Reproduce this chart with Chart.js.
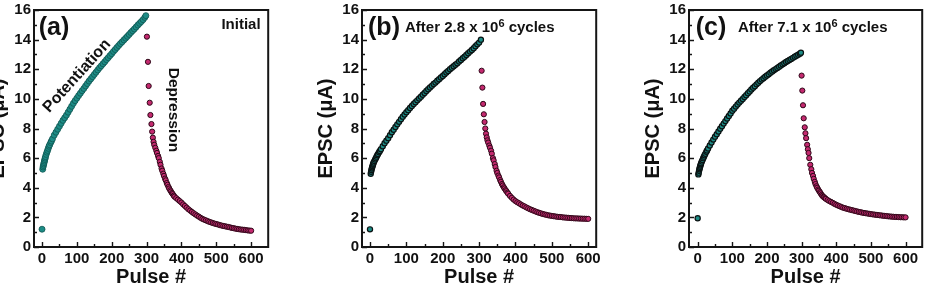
<!DOCTYPE html>
<html>
<head>
<meta charset="utf-8">
<script src="https://cdn.jsdelivr.net/npm/chart.js@4.4.1/dist/chart.umd.min.js"></script>
<style>
  body { margin: 0; background: #fff; width: 926px; height: 296px; overflow: hidden; position: relative; }
  canvas { position: absolute; top: 0; }
</style>
</head>
<body>
<canvas id="ca" width="310" height="296" style="left:-38px"></canvas>
<canvas id="cb" width="310" height="296" style="left:290px"></canvas>
<canvas id="cc" width="309" height="296" style="left:617px"></canvas>
<script>
// [pulse, EPSC uA]
const aPot = [[0,1.2],[2,5.25],[3,5.4],[4,5.5],[5,5.6],[6,5.7],[7,5.8],[8,5.9],[9,6.0],[10,6.1],[12,6.25],[14,6.4],[16,6.52],
  [18,6.66],[20,6.8],[22,6.9],[25,7.05],[27,7.15],[30,7.3],[35,7.55],[40,7.75],[45,7.95],[50,8.15],
  [55,8.35],[60,8.55],[65,8.72],[70,8.9],[75,9.1],[80,9.3],[85,9.5],[90,9.7],[95,9.88],[100,10.05],[105,10.22],[110,10.38],
  [115,10.55],[120,10.7],[125,10.87],[130,11.03],[135,11.2],[140,11.35],[145,11.5],[150,11.65],[155,11.8],[160,11.95],
  [165,12.1],[170,12.23],[175,12.37],[180,12.5],[185,12.65],[190,12.78],[195,12.92],[200,13.05],[205,13.2],[210,13.33],
  [215,13.47],[220,13.6],[225,13.73],[230,13.85],[235,13.98],[240,14.1],[245,14.22],[250,14.35],[255,14.48],[260,14.6],
  [265,14.72],[270,14.85],[275,14.98],[280,15.1],[285,15.22],[290,15.35],[295,15.5],[298,15.62]];
const aDep = [[301,14.2],[304,12.5],[306,10.87],[309,9.74],[311,8.91],[314,8.3],[316,7.79],[318,7.38],[320,7.1],[322,6.9],
  [325,6.7],[328,6.5],[330,6.35],[333,6.15],[335,6.0],[338,5.75],[340,5.55],[343,5.3],[345,5.15],[348,4.95],[350,4.8],
  [353,4.62],[355,4.5],[358,4.32],[360,4.2],[363,4.05],[365,3.95],[368,3.83],[370,3.75],[373,3.64],[375,3.57],[378,3.47],
  [380,3.4],[385,3.3],[390,3.2],[395,3.1],[400,3.0],[405,2.88],
  [410,2.77],[415,2.66],[420,2.55],[425,2.46],[430,2.37],[435,2.28],[440,2.2],[445,2.12],[450,2.05],[455,1.97],[460,1.9],
  [465,1.85],[470,1.8],[475,1.75],[480,1.7],[485,1.66],[490,1.62],[495,1.58],[500,1.55],[505,1.52],[510,1.48],[515,1.45],
  [520,1.42],[525,1.4],[530,1.37],[535,1.35],[540,1.32],[545,1.29],[550,1.27],[555,1.24],[560,1.22],[565,1.2],[570,1.18],
  [575,1.17],[580,1.16],[585,1.14],[590,1.12],[595,1.11],[600,1.1]];

const bPot = [[0,1.19],[2,4.95],[3,5.08],[4,5.2],[5,5.3],[6,5.38],[7,5.46],[8,5.55],[9,5.62],[10,5.7],[12,5.8],[14,5.9],
  [16,6.0],[18,6.1],[20,6.2],[22,6.28],[25,6.4],[27,6.48],[30,6.6],[35,6.8],[40,7.0],[45,7.18],[50,7.35],
  [55,7.55],[60,7.75],[65,7.92],[70,8.1],[75,8.28],[80,8.45],[85,8.62],[90,8.8],[95,8.95],[100,9.1],[105,9.24],[110,9.38],
  [115,9.52],[120,9.65],[125,9.78],[130,9.9],[135,10.03],[140,10.15],[145,10.28],[150,10.4],[155,10.53],[160,10.65],
  [165,10.77],[170,10.88],[175,11.0],[180,11.1],[185,11.22],[190,11.33],[195,11.44],[200,11.55],[205,11.66],[210,11.78],
  [215,11.89],[220,12.0],[225,12.1],[230,12.2],[235,12.3],[240,12.4],[245,12.52],[250,12.63],[255,12.74],[260,12.85],
  [265,12.96],[270,13.08],[275,13.19],[280,13.3],[285,13.42],[290,13.55],[295,13.68],[300,13.8],[305,14.0]];
const bDep = [[307,11.9],[309,10.76],[311,9.66],[313,8.96],[315,8.44],[317,8.0],[319,7.65],[321,7.4],[323,7.2],[325,7.05],
  [328,6.85],[330,6.7],[333,6.5],[335,6.3],[338,6.0],[340,5.85],[343,5.6],[345,5.4],[348,5.15],[350,5.0],[353,4.82],
  [355,4.7],[358,4.52],[360,4.4],[363,4.25],[365,4.15],[368,4.03],[370,3.95],[373,3.84],[375,3.77],[378,3.67],
  [380,3.6],[385,3.45],[390,3.32],[395,3.2],[400,3.1],[405,3.02],[410,2.95],
  [415,2.87],[420,2.8],[425,2.74],[430,2.67],[435,2.61],[440,2.55],[445,2.5],[450,2.45],[455,2.4],[460,2.35],[465,2.31],
  [470,2.27],[475,2.23],[480,2.2],[485,2.17],[490,2.14],[495,2.12],[500,2.1],[505,2.08],[510,2.06],[515,2.04],[520,2.03],
  [525,2.02],[530,2.0],[535,1.99],[540,1.98],[545,1.97],[550,1.96],[555,1.95],[560,1.94],[565,1.93],[570,1.93],[575,1.92],
  [580,1.92],[585,1.91],[590,1.91],[595,1.9],[600,1.9]];

const cPot = [[0,1.94],[2,4.9],[3,5.02],[4,5.14],[5,5.25],[6,5.33],[7,5.42],[8,5.5],[9,5.58],[10,5.65],[12,5.77],[14,5.88],
  [16,6.0],[18,6.1],[20,6.2],[22,6.29],[25,6.43],[27,6.52],[30,6.65],[35,6.85],[40,7.05],[45,7.25],
  [50,7.45],[55,7.62],[60,7.8],[65,7.98],[70,8.15],[75,8.33],[80,8.5],[85,8.68],[90,8.85],[95,9.02],[100,9.2],[105,9.34],
  [110,9.48],[115,9.62],[120,9.75],[125,9.88],[130,10.0],[135,10.13],[140,10.25],[145,10.38],[150,10.5],[155,10.63],
  [160,10.75],[165,10.86],[170,10.98],[175,11.09],[180,11.2],[185,11.3],[190,11.4],[195,11.49],[200,11.58],[205,11.67],
  [210,11.76],[215,11.85],[220,11.93],[225,12.01],[230,12.09],[235,12.17],[240,12.25],[245,12.33],[250,12.41],[255,12.49],
  [260,12.56],[265,12.63],[270,12.7],[275,12.77],[280,12.84],[285,12.91],[290,12.98],[295,13.05],[298,13.12]];
const cDep = [[300,11.57],[302,10.56],[304,9.57],[306,8.69],[309,8.08],[311,7.68],[313,7.35],[316,6.9],[318,6.6],[320,6.35],
  [322,6.0],[325,5.55],[328,5.25],[330,5.0],[333,4.8],[335,4.6],[338,4.4],[340,4.25],[343,4.1],[345,4.0],[348,3.88],
  [350,3.8],[353,3.7],[355,3.62],[358,3.52],[360,3.45],[363,3.39],[365,3.35],[368,3.29],[370,3.25],[375,3.17],[380,3.1],
  [385,3.04],[390,2.98],[395,2.91],[400,2.85],[405,2.8],[410,2.75],
  [415,2.7],[420,2.65],[425,2.62],[430,2.58],[435,2.55],[440,2.52],[445,2.49],[450,2.46],[455,2.43],[460,2.4],[465,2.37],
  [470,2.35],[475,2.32],[480,2.3],[485,2.28],[490,2.26],[495,2.24],[500,2.22],[505,2.2],[510,2.19],[515,2.17],[520,2.16],
  [525,2.14],[530,2.13],[535,2.11],[540,2.1],[545,2.09],[550,2.07],[555,2.06],[560,2.05],[565,2.04],[570,2.03],[575,2.03],
  [580,2.02],[585,2.01],[590,2.01],[595,2.0],[600,2.0]];

const xTicks = [0, 50, 100, 150, 200, 250, 300, 350, 400, 450, 500, 550, 600];
const yTicks = [0, 1, 2, 3, 4, 5, 6, 7, 8, 9, 10, 11, 12, 13, 14, 15, 16];

const FAMILY = '"Liberation Sans", Arial, sans-serif';
const TEAL = '#1d8c86';
const PINK = '#c4296f';
const PINK_EDGE = '#2e0818';

// inward tick marks, box frame and the in-plot labels
const frame = {
  id: 'frame',
  afterDatasetsDraw(chart, args, opts) {
    const { ctx, chartArea: a, scales: { x, y } } = chart;
    ctx.save();
    ctx.strokeStyle = '#151515';
    ctx.lineWidth = 1.4;
    ctx.beginPath();
    x.ticks.forEach(t => {
      const px = Math.round(x.getPixelForValue(t.value)) + 0.5;
      const len = t.value % 100 === 0 ? 5 : 3;
      ctx.moveTo(px, a.bottom);
      ctx.lineTo(px, a.bottom - len);
    });
    y.ticks.forEach(t => {
      const py = Math.round(y.getPixelForValue(t.value)) + 0.5;
      const len = t.value % 2 === 0 ? 5 : 3;
      ctx.moveTo(a.left, py);
      ctx.lineTo(a.left + len, py);
    });
    ctx.stroke();
    ctx.lineWidth = 2;
    ctx.strokeRect(a.left, a.top, a.right - a.left, a.bottom - a.top);

    ctx.fillStyle = '#111';
    (opts.notes || []).forEach(n => {
      ctx.save();
      ctx.translate(a.left + n.dx, a.top + n.dy);
      ctx.rotate((n.angle || 0) * Math.PI / 180);
      if (n.parts) {
        ctx.textAlign = 'left';
        ctx.textBaseline = 'alphabetic';
        let cx = 0;
        n.parts.forEach(([t, s, up]) => {
          ctx.font = `bold ${s}px ${FAMILY}`;
          ctx.fillText(t, cx, -up);
          cx += ctx.measureText(t).width;
        });
      } else {
        ctx.textAlign = 'center';
        ctx.textBaseline = 'middle';
        ctx.font = `bold ${n.size}px ${FAMILY}`;
        ctx.fillText(n.text, 0, 0);
      }
      ctx.restore();
    });
    ctx.restore();
  }
};

function makeChart(p) {
  const canvas = document.getElementById(p.id);
  const tickFont = { family: FAMILY, size: 15, weight: 'bold' };
  const titleFont = { family: FAMILY, size: 20, weight: 'bold' };
  new Chart(canvas, {
    type: 'scatter',
    data: {
      datasets: [
        { data: p.pot.map(([x, y]) => ({ x, y })), backgroundColor: TEAL, borderColor: p.potEdge,
          borderWidth: p.potBorder, pointRadius: p.potRadius },
        { data: p.dep.map(([x, y]) => ({ x, y })), backgroundColor: PINK, borderColor: PINK_EDGE, borderWidth: 1 }
      ]
    },
    options: {
      responsive: false,
      animation: false,
      devicePixelRatio: 1,
      layout: { padding: { left: 0, top: 10, right: canvas.width - p.plotRight, bottom: 0 } },
      elements: { point: { radius: 2.6, hoverRadius: 2.6 } },
      plugins: {
        legend: { display: false },
        tooltip: { enabled: false },
        frame: { notes: p.notes }
      },
      scales: {
        x: {
          type: 'linear',
          min: p.xMin,
          max: p.xMax,
          afterBuildTicks: s => { s.ticks = xTicks.map(v => ({ value: v })); },
          afterFit: s => { s.height = 49; s.paddingLeft = 0; s.paddingRight = 0; },
          grid: { display: false, drawTicks: false },
          border: { display: false },
          ticks: {
            padding: 3, color: '#111', font: tickFont, autoSkip: false, maxRotation: 0,
            callback: v => (v % 100 === 0 ? String(v) : '')
          },
          title: { display: true, text: 'Pulse #', color: '#111', font: titleFont, padding: { top: 0, bottom: 7 } }
        },
        y: {
          type: 'linear',
          min: 0,
          max: 16,
          afterBuildTicks: s => { s.ticks = yTicks.map(v => ({ value: v })); },
          afterFit: s => { s.width = 72; s.paddingTop = 0; s.paddingBottom = 0; },
          grid: { display: false, drawTicks: false },
          border: { display: false },
          ticks: {
            padding: 3, color: '#111', font: tickFont, autoSkip: false,
            callback: v => (v % 2 === 0 ? String(v) : '')
          },
          title: { display: true, text: 'EPSC (μA)', color: '#111', font: titleFont, padding: { top: 24, bottom: 0 } }
        }
      }
    },
    plugins: [frame]
  });
}

makeChart({
  id: 'ca', plotRight: 307, xMin: -23, xMax: 649, pot: aPot, dep: aDep,
  potEdge: '#0f5550', potBorder: 0.8, potRadius: 3,
  notes: [
    { text: '(a)', size: 25, dx: 20, dy: 18 },
    { text: 'Initial', size: 15, dx: 207, dy: 15 },
    { text: 'Potentiation', size: 16, dx: 43, dy: 66, angle: -48 },
    { text: 'Depression', size: 15.5, dx: 139, dy: 100, angle: 90 }
  ]
});
makeChart({
  id: 'cb', plotRight: 307, xMin: -22, xMax: 622, pot: bPot, dep: bDep,
  potEdge: '#0a1212', potBorder: 1.2, potRadius: 2.6,
  notes: [
    { text: '(b)', size: 25, dx: 22, dy: 18 },
    { parts: [['After 2.8 x 10', 15, 0], ['6', 11, 5], [' cycles', 15, 0]], dx: 43, dy: 22 }
  ]
});
makeChart({
  id: 'cc', plotRight: 307, xMin: -25, xMax: 648, pot: cPot, dep: cDep,
  potEdge: '#0a1212', potBorder: 1.2, potRadius: 2.6,
  notes: [
    { text: '(c)', size: 25, dx: 22, dy: 18 },
    { parts: [['After 7.1 x 10', 15, 0], ['6', 11, 5], [' cycles', 15, 0]], dx: 49, dy: 22 }
  ]
});
</script>
</body>
</html>
